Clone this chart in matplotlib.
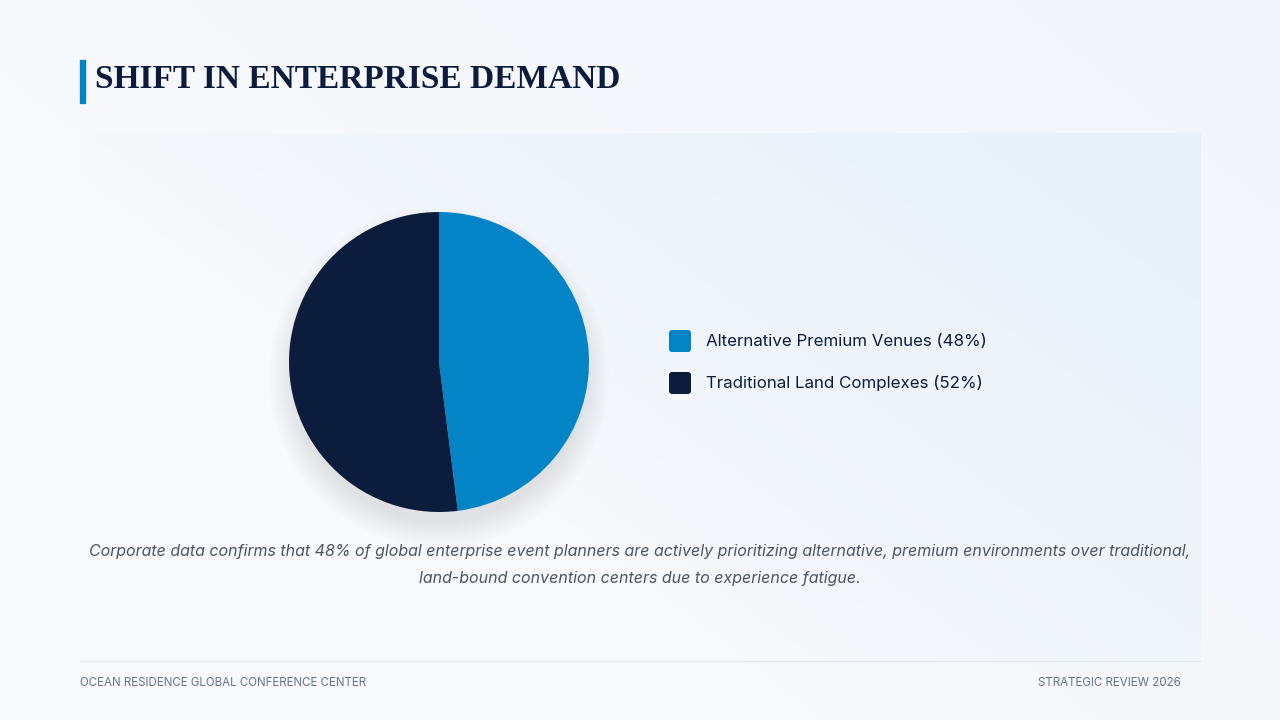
import numpy as np
import matplotlib.pyplot as plt
from matplotlib.patches import FancyBboxPatch, Rectangle, Circle

labels = ["Alternative Premium Venues", "Traditional Land Complexes"]
shares = [48, 52]
colors = ["#0284C7", "#0B1C3D"]

title = "SHIFT IN ENTERPRISE DEMAND"
caption = ("Corporate data confirms that 48% of global enterprise event planners are actively prioritizing "
           "alternative, premium environments over traditional,\nland-bound convention centers due to experience fatigue.")
footer_left = "OCEAN RESIDENCE GLOBAL CONFERENCE CENTER"
footer_right = "STRATEGIC REVIEW 2026"

W, H = 1280, 720
fig = plt.figure(figsize=(12.8, 7.2), dpi=100)

# background with a soft gradient
bg = fig.add_axes([0, 0, 1, 1])
bg.set_xlim(0, W)
bg.set_ylim(H, 0)
bg.axis("off")
yy, xx = np.mgrid[0:H, 0:W]
base = np.array([247, 249, 252]) / 255.0
tint = np.array([228, 239, 248]) / 255.0
t = np.clip((xx / W) * 0.7 + (1 - yy / H) * 0.5 - 0.45, 0, 1) * 0.35
img = base[None, None, :] * (1 - t[..., None]) + tint[None, None, :] * t[..., None]
# panel area slightly tinted towards top right
px = np.clip((xx - 80) / 1120, 0, 1)
py = np.clip((660 - yy) / 527, 0, 1)
inpanel = ((xx >= 80) & (xx <= 1200) & (yy >= 133) & (yy <= 660)).astype(float)
tp = inpanel * np.clip(px * 0.9 + py * 0.6 - 0.55, 0, 1) * 0.9
img = img * (1 - tp[..., None]) + tint[None, None, :] * tp[..., None]
bg.imshow(img, extent=[0, W, H, 0], aspect="auto", zorder=0)

# title
bg.add_patch(Rectangle((80, 60), 5, 43, color="#0284C7", zorder=2))
bg.text(95, 79, title, fontsize=24, fontweight="bold", family="Liberation Serif",
        color="#0B1C3D", va="center", ha="left", zorder=3)

# legend
for i, (lab, val, c) in enumerate(zip(labels, shares, colors)):
    y = 341 + i * 42
    bg.add_patch(FancyBboxPatch((669, y - 11), 22, 22, boxstyle="round,pad=0,rounding_size=3",
                                facecolor=c, edgecolor="none", zorder=3))
    bg.text(706, y, f"{lab} ({val}%)", fontsize=12.2, family="Inter",
            color="#0B1C3D", va="center", ha="left", zorder=3)

# caption
bg.text(640, 565, caption, fontsize=11.5, style="italic", family="Inter", color="#4B5563",
        ha="center", va="center", linespacing=1.95, zorder=3)

# footer
bg.plot([80, 1200], [660.5, 660.5], color="#E2E8F0", lw=1, zorder=2)
bg.text(80, 683, footer_left, fontsize=8.3, family="Inter", color="#64748B", va="center", ha="left")
bg.text(1181, 683, footer_right, fontsize=8.3, family="Inter", color="#64748B", va="center", ha="right")

# pie chart
cx, cy, r = 439, 362, 150
pad = 40
ax = fig.add_axes([(cx - r - pad) / W, (H - cy - r - pad) / H, (2 * r + 2 * pad) / W, (2 * r + 2 * pad) / H])
ax.axis("off")
# soft drop shadow
for k in range(12):
    ax.add_patch(Circle((0, -0.1), 0.97 + k * 0.015, color="#0B1C3D", alpha=0.006, lw=0, zorder=1))
ax.pie(shares, colors=colors, startangle=90, counterclock=False, radius=1,
       wedgeprops=dict(linewidth=0), center=(0, 0), frame=False)
ax.set_xlim(-(r + pad) / r, (r + pad) / r)
ax.set_ylim(-(r + pad) / r, (r + pad) / r)
ax.set_aspect("auto")

fig.savefig("out.png", dpi=100)
